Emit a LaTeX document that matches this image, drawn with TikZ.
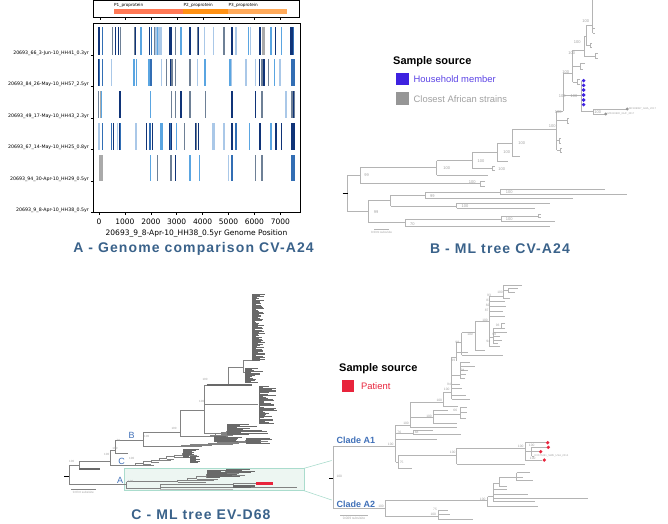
\documentclass[tikz,border=0pt]{standalone}
\usepackage{fontspec}
\setmainfont{Liberation Sans}
\newfontfamily\plotfont{DejaVu Sans}
\newfontfamily\capfont[LetterSpace=8]{Liberation Sans}
\usetikzlibrary{positioning}
\definecolor{CapBlue}{RGB}{58,98,138}
\definecolor{TreeGray}{RGB}{180,180,180}
\definecolor{LabelGray}{RGB}{160,160,160}
\definecolor{CGray}{RGB}{130,130,130}
\definecolor{CDark}{RGB}{105,105,105}
\definecolor{HouseBlue}{RGB}{62,34,224}
\definecolor{AfricaGray}{RGB}{150,150,150}
\definecolor{PatientRed}{RGB}{232,36,60}
\definecolor{CladeBlue}{RGB}{64,112,184}
\definecolor{ZoomTeal}{RGB}{170,220,205}
\definecolor{ZoomFill}{RGB}{237,246,242}
\definecolor{ProtOne}{RGB}{255,120,85}
\definecolor{ProtTwo}{RGB}{255,145,20}
\definecolor{ProtThree}{RGB}{255,170,90}
\definecolor{SnpNavy}{RGB}{16,52,120}
\definecolor{SnpBlue}{RGB}{50,110,180}
\definecolor{SnpSky}{RGB}{90,165,225}
\definecolor{SnpPale}{RGB}{170,200,232}
\definecolor{SnpSlate}{RGB}{110,128,150}
\definecolor{SnpGray}{RGB}{170,170,170}

% comb of leaves: x, y top, y bottom, leaves, min length, max length
\newcommand{\treecomb}[6]{%
  \draw[combC] (#1,#2) -- (#1,#3);
  \foreach \ci in {0,...,#4}{
    \pgfmathsetmacro{\combY}{#2+(#3-#2)*\ci/#4}
    \pgfmathsetmacro{\combL}{#5+(#6-#5)*rnd}
    \draw[combC] (#1,\combY) -- ++(\combL,0);
  }}
% ladder of nodes: x0, y0, x1, y1, steps, min leaf, max leaf
\newcommand{\treeladder}[7]{%
  \foreach \ci in {1,...,#5}{
    \pgfmathsetmacro{\lxa}{#1+(#3-#1)*(\ci-1)/#5}
    \pgfmathsetmacro{\lya}{#2+(#4-#2)*(\ci-1)/#5}
    \pgfmathsetmacro{\lxb}{#1+(#3-#1)*\ci/#5}
    \pgfmathsetmacro{\lyb}{#2+(#4-#2)*\ci/#5}
    \pgfmathsetmacro{\lyc}{\lya+0.4*(\lya-\lyb)}
    \pgfmathsetmacro{\lleaf}{#6+(#7-#6)*rnd}
    \draw[branchC] (\lxa,\lya) -- (\lxb,\lya) (\lxb,\lyb) -- (\lxb,\lyc) (\lxb,\lyc) -- ++(\lleaf,0);
  }}

\begin{document}
\begin{tikzpicture}[x=1pt,y=-1pt,
    axisframe/.style={draw=black,line width=0.7pt},
    ylab/.style={font=\plotfont\fontsize{4.7}{5}\selectfont,anchor=east,inner sep=0pt},
    xlab/.style={font=\plotfont\fontsize{7.5}{8}\selectfont,inner sep=0pt},
    protlab/.style={font=\plotfont\fontsize{4.2}{5}\selectfont,anchor=west,inner sep=0pt},
    panelcap/.style={font=\capfont\bfseries\fontsize{14}{16}\selectfont,text=CapBlue,inner sep=0pt},
    legtitle/.style={font=\bfseries\fontsize{11}{13}\selectfont,anchor=west,inner sep=0pt},
    legtext/.style={font=\fontsize{9.4}{11}\selectfont,inner sep=0pt},
    legsq/.style={minimum size=12.5pt,inner sep=0pt},
    branchB/.style={draw=TreeGray,line width=0.8pt},
    rootline/.style={draw=black,line width=0.9pt},
    bootB/.style={font=\fontsize{4}{4.5}\selectfont,text=LabelGray,inner sep=0pt},
    branchC/.style={draw=CGray,line width=0.45pt},
    combC/.style={draw=CDark,line width=0.25pt},
    clusterC/.style={draw=CDark,line width=1.3pt},
    bundleC/.style={draw=TreeGray,line width=1.6pt},
    patientC/.style={draw=PatientRed,line width=0.55pt},
    bootC/.style={font=\fontsize{3}{3.5}\selectfont,text=LabelGray,inner sep=0pt},
    cladelab/.style={font=\fontsize{9}{10}\selectfont,text=CladeBlue,inner sep=0pt},
    branchZ/.style={draw=TreeGray,line width=0.6pt},
    bootZ/.style={font=\fontsize{3.3}{3.8}\selectfont,text=LabelGray,inner sep=0pt},
    tipname/.style={font=\fontsize{2.6}{3}\selectfont,text=LabelGray,anchor=west,inner sep=0.5pt},
    zoombox/.style={draw=ZoomTeal,fill=ZoomFill,line width=0.5pt},
    zoomline/.style={draw=ZoomTeal,line width=0.6pt}
  ]
  \useasboundingbox (0,0) rectangle (668,523);
  \pgfmathsetseed{7}

  % ---------- A: genome comparison ----------
  \draw[axisframe] (93.3,0.4) rectangle (299,17);
  \fill[ProtOne] (114,9) rectangle (183,14);
  \fill[ProtTwo] (183,9) rectangle (228,14);
  \fill[ProtThree] (228,9) rectangle (287,14);
  \node[protlab] (pOne) at (114,5.5) {P1\_proprotein};
  \node[protlab] (pTwo) at (183.5,5.5) {P2\_proprotein};
  \node[protlab] (pThree) at (228.5,5.5) {P3\_proprotein};
  \foreach \ti in {0,...,7}
    \draw[line width=0.5pt] ({99.8+25.8*\ti},17) -- ++(0,2.5);

  \draw[axisframe] (93.3,23.3) rectangle (300,212.7);
  % row 1
  \foreach \bx/\bw/\bc in {98.5/2/SnpNavy,102.3/1.2/SnpBlue,112.3/1.2/SnpSlate,115.7/1.2/SnpNavy,
      118.3/1.2/SnpNavy,120.3/1/SnpSlate,134.5/1.5/SnpSlate,135.8/1/SnpNavy,141/1.2/SnpSky,
      149.7/1.2/SnpNavy,151.3/1.2/SnpBlue,156.5/6/SnpPale,154/1/SnpSlate,157.5/1/SnpSky,
      161/1.2/SnpPale,169.5/1.5/SnpNavy,171.2/1.5/SnpNavy,175.7/1.2/SnpSlate,181/1.2/SnpSky,
      190/1.2/SnpNavy,197.3/1.2/SnpSlate,198.7/1/SnpNavy,204.3/1.2/SnpPale,213.3/1.2/SnpPale,
      224/1.2/SnpSlate,232/1.2/SnpNavy,236/1.2/SnpPale,248.7/1.2/SnpSky,250.7/1.2/SnpPale,
      259.3/1.2/SnpNavy,260.7/1.2/SnpNavy,263.8/2.8/SnpGray,271/1.2/SnpSky,275.7/1.2/SnpNavy,
      281.7/1.2/SnpSky,291.5/3/SnpNavy,293.5/1.5/SnpBlue}
    \fill[\bc] ({\bx-\bw/2},27) rectangle ({\bx+\bw/2},54.5);
  % row 2
  \foreach \bx/\bw/\bc in {98.3/1.2/SnpNavy,99.8/1/SnpBlue,102.3/1.2/SnpBlue,111.7/1.2/SnpPale,
      134/1.2/SnpSky,136.7/1.2/SnpSky,149/1.2/SnpSky,151/1.2/SnpBlue,161.3/1.2/SnpPale,
      166.3/1.2/SnpSlate,170.7/1.2/SnpNavy,172/1.2/SnpSlate,175.7/1.2/SnpSlate,190/1.2/SnpSlate,
      197.3/1.2/SnpPale,205/1.2/SnpSky,230/1.2/SnpSky,231.7/1.2/SnpPale,246/1.2/SnpPale,
      255.3/1.2/SnpPale,259.8/1.2/SnpNavy,261.5/2/SnpSlate,264/1.2/SnpNavy,268.7/1.2/SnpSlate,
      274.3/1.2/SnpSky,280/1.2/SnpPale,292.8/4.4/SnpBlue}
    \fill[\bc] ({\bx-\bw/2},59) rectangle ({\bx+\bw/2},86);
  % row 3
  \foreach \bx/\bw/\bc in {98.5/1.6/SnpSlate,100.3/1.2/SnpGray,101.5/1/SnpSky,120/1.4/SnpNavy,
      150.7/1.2/SnpSky,171.7/1.2/SnpSlate,175.7/1.2/SnpSlate,181/1.2/SnpNavy,190/1.2/SnpSlate,
      205.7/1.2/SnpSlate,232/1.2/SnpNavy,255.3/1.2/SnpNavy,262/1.2/SnpSlate,286/1.2/SnpPale,
      292.8/4.2/SnpSlate,293.5/1.2/SnpNavy}
    \fill[\bc] ({\bx-\bw/2},91) rectangle ({\bx+\bw/2},118);
  % row 4
  \foreach \bx/\bw/\bc in {99/1.2/SnpPale,102.3/1.2/SnpBlue,111.7/1.2/SnpBlue,113.3/1.2/SnpNavy,
      117.3/1.2/SnpPale,119.3/1.2/SnpNavy,120.7/1.2/SnpBlue,136/1.2/SnpPale,146.3/1.2/SnpNavy,
      150/1.2/SnpBlue,152.7/1.2/SnpNavy,161.6/3.3/SnpSky,169.3/1.2/SnpNavy,170.6/1.2/SnpBlue,
      171.7/1.2/SnpNavy,176.7/1.2/SnpSky,184.3/1.2/SnpSlate,195.3/1.2/SnpNavy,196.8/1.2/SnpSlate,
      198.3/1.2/SnpNavy,213.7/2.7/SnpPale,224/1.2/SnpPale,232/1.2/SnpNavy,236/1.2/SnpBlue,
      249.7/1.2/SnpSky,260/1.2/SnpNavy,271/1.2/SnpSky,276/1.2/SnpNavy,281.7/1.2/SnpNavy,
      292.8/4.2/SnpNavy}
    \fill[\bc] ({\bx-\bw/2},123) rectangle ({\bx+\bw/2},150);
  % row 5
  \foreach \bx/\bw/\bc in {101/4.3/SnpGray,150.7/1.2/SnpSky,157.3/1.2/SnpSlate,171/1.2/SnpSlate,
      175.7/1.2/SnpNavy,190/1.2/SnpSky,199.3/1.2/SnpSky,228.7/1.2/SnpPale,232/1.2/SnpBlue,
      255.3/1.2/SnpSlate,262/1.2/SnpSlate,293/4/SnpBlue}
    \fill[\bc] ({\bx-\bw/2},154.5) rectangle ({\bx+\bw/2},181);

  \foreach \ty in {55,86.5,118,149.7,181.2,212.7}
    \draw[line width=0.5pt] (90.8,\ty) -- (93.3,\ty);
  \node[ylab] (rowOne) at (89,53) {20693\_66\_3-Jun-10\_HH41\_0.3yr};
  \node[ylab] (rowTwo) at (89,84.5) {20693\_84\_26-May-10\_HH57\_2.5yr};
  \node[ylab] (rowThree) at (89,116) {20693\_49\_17-May-10\_HH43\_2.3yr};
  \node[ylab] (rowFour) at (89,147.7) {20693\_67\_14-May-10\_HH25\_0.8yr};
  \node[ylab] (rowFive) at (89,179.2) {20693\_94\_30-Apr-10\_HH29\_0.5yr};
  \node[ylab] (rowSix) at (89,210.7) {20693\_9\_8-Apr-10\_HH38\_0.5yr};
  \foreach \vi in {0,...,7}{
    \pgfmathtruncatemacro{\vlab}{1000*\vi}
    \draw[line width=0.5pt] ({99+25.9*\vi},212.7) -- ++(0,2.5);
    \node[xlab] at ({99+25.9*\vi},221.7) {\vlab};
  }
  \node[xlab] (axisA) at (196.5,233.7) {20693\_9\_8-Apr-10\_HH38\_0.5yr Genome Position};
  \node[panelcap] (capA) at (193.5,249.3) {A - Genome comparison CV-A24};

  % ---------- B: ML tree CV-A24 ----------
  \node[legtitle] (legB) at (393,61.7) {Sample source};
  \node[legsq,fill=HouseBlue] (sqHouse) at (402.5,79) {};
  \node[legtext,text=HouseBlue!85,right=4.5pt of sqHouse] (txtHouse) {Household member};
  \node[legsq,fill=AfricaGray] (sqAfrica) at (402.5,98.7) {};
  \node[legtext,text=LabelGray,right=4.5pt of sqAfrica] (txtAfrica) {Closest African strains};

  \draw[branchB] (347.7,175) -- (347.7,211.7);
  \draw[rootline] (342.7,193) -- (347.7,193);
  \draw[branchB] (347.7,175) -- (360,175) (360,167.3) -- (360,183.3);
  \draw[branchB] (360,167.3) -- (436.7,167.3) (436.7,160.7) -- (436.7,175) (436.7,175) -- (488.3,175);
  \draw[branchB] (436.7,160.7) -- (472.3,160.7) (472.3,152.7) -- (472.3,168.3) (472.3,168.3) -- (492.7,168.3);
  \draw[branchB] (494.5,166.5) -| (492.7,170) -- (494.5,170);
  \draw[branchB] (472.3,152.7) -- (497.3,152.7) (497.3,143.3) -- (497.3,161) (497.3,161) -- (508.3,161);
  \draw[branchB] (497.3,143.3) -- (512.7,143.3) (512.7,129.3) -- (512.7,156.7) (512.7,156.7) -- (520,156.7);
  \draw[branchB] (512.7,129.3) -- (556.7,129.3);
  \draw[branchB] (360,183.3) -- (480,183.3) (485,181) -| (480,186) -- (485,186);
  \draw[branchB] (347.7,211.7) -- (368.3,211.7) (368.3,200) -- (368.3,222.7);
  \draw[branchB] (368.3,200) -- (390.7,200) (390.7,195.3) -- (390.7,206);
  \draw[branchB] (390.7,195.3) -- (425,195.3) (425,192) -- (425,198.7) (425,198.7) -- (573.3,198.7);
  \draw[branchB] (425,192) -- (500,192) (500,189.3) -- (500,194) (500,189.3) -- (605,189.3) (500,194) -- (626.7,194);
  \draw[branchB] (390.7,206) -- (456.7,206) (456.7,203.3) -- (456.7,208.3) (456.7,203.3) -- (550,203.3) (456.7,208.3) -- (535,208.3);
  \draw[branchB] (368.3,222.7) -- (405,222.7) (405,219) -- (405,226.7) (405,226.7) -- (550,226.7);
  \draw[branchB] (405,219) -- (501,219) (501,216) -- (501,221.7) (501,216) -- (538.3,216) (501,221.7) -- (555,221.7);
  \draw[branchB] (540.5,214.5) -| (538.3,217.5) -- (540.5,217.5);
  % upper part of the CV-A24 tree
  \draw[branchB] (556.7,111) -- (556.7,150);
  \draw[branchB] (556.7,120) -- (567,120) (569,118) -| (567,123) -- (569,123);
  \draw[branchB] (556.7,140) -- (559,140) (561,138) -| (559,143) -- (561,143);
  \draw[branchB] (556.7,150) -- (560,150) (562,148) -| (560,152) -- (562,152);
  \draw[branchB] (556.7,111) -- (563.3,111) (563.3,73) -- (563.3,111);
  \draw[branchB] (563.3,95.7) -- (581.7,95.7) (581.7,80.7) -- (581.7,111.7);
  \foreach \dy in {80.7,85.3,90,95,100,104.7}{
    \draw[branchB] (581.7,\dy) -- (583.3,\dy);
    \fill[HouseBlue] (583.6,\dy) circle (1.9);
  }
  \draw[branchB] (581.7,111.7) -- (593.3,111.7) (593.3,109) -- (593.3,114);
  \draw[branchB] (593.3,109) -- (627.3,109) (593.3,114) -- (605.7,114);
  \fill[AfricaGray] (627.3,109) circle (1.6);
  \fill[AfricaGray] (605.7,114) circle (1.6);
  \node[tipname] (tipGha) at (628.5,109) {MF189997\_GHA\_2017};
  \node[tipname] (tipGuf) at (607,114) {MF416930\_GUF\_2017};
  \draw[branchB] (563.3,73) -- (572.7,73) (572.7,50) -- (572.7,82);
  \draw[branchB] (572.7,66) -- (580,66) (585,63) -| (580,69) -- (583,69);
  \draw[branchB] (572.7,82) -- (577,82) (580,79.5) -| (577,84.5) -- (579.5,84.5);
  \draw[branchB] (572.7,50) -- (584,50) (584,36) -- (584,56) (584,56) -- (595,56);
  \draw[branchB] (597.5,53.5) -| (595,58.5) -- (597.5,58.5);
  \draw[branchB] (584,36) -- (586,36) (586,25) -- (586,45) (586,45) -- (590,45);
  \draw[branchB] (592,43) -| (590,47) -- (592,47);
  \draw[branchB] (586,25) -- (592.7,25) (592.7,0) -- (592.7,33);
  \draw[branchB] (592.7,28) -- (595,28) (592.7,33) -- (595,33);
  \foreach \lx/\ly in {585.7/21,577.3/41.7,571.7/53.3,565.7/72.3,562.3/95.7,574/95.7,597.7/111.7,
      558.3/111.7,552.3/126.5,521.7/143.3,506.7/152.3,481/160.7,446.7/167.7,501.7/168.7,
      472.3/181.7,509.3/192,465/206.3,509.3/219.3}
    \node[bootB] at (\lx,\ly) {100};
  \foreach \lx/\ly/\lt in {366.7/175/99,432.3/196/99,376/212.3/99,412.3/223.7/70}
    \node[bootB] at (\lx,\ly) {\lt};
  \draw[branchB,line width=0.6pt] (374,229) -- (389.3,229);
  \node[bootB,font=\fontsize{3}{3.5}\selectfont] (scaleB) at (381.5,232.5) {0.03nt subs/site};
  \node[panelcap] (capB) at (500,248.3) {B - ML tree CV-A24};

  % ---------- C: ML tree EV-D68 ----------
  \draw[zoombox] (124,468.3) rectangle (304,490.7);
  \draw[zoomline] (304,468.3) -- (331.7,460.5);
  \draw[zoomline] (304,490.7) -- (331.7,500);
  \draw[rootline] (64.3,476.7) -- (69,476.7);
  \draw[branchC] (69,465) -- (69,484);
  \draw[branchC] (69,465) -- (79,465) (79,461) -- (79,469);
  \draw[clusterC] (79,469) -- (100,469);
  \draw[branchC] (79,461) -- (110,461) (110,450) -- (110,465);
  % clade C
  \draw[branchC] (110,465) -- (128,465);
  \treeladder{128}{465}{182}{453}{7}{6}{20}
  \treecomb{183}{449}{457}{10}{5}{16}
  \treecomb{190}{456}{462}{8}{4}{12}
  % clade B
  \draw[branchC] (110,450) -- (115,450) (115,440) -- (115,453) (115,453) -- (128,453);
  \draw[branchC] (115,440) -- (143,440) (143,432) -- (143,446);
  \draw[branchC] (143,446) -- (172,446);
  \treeladder{172}{446}{245}{440}{8}{6}{25}
  \treecomb{246}{438}{443}{6}{10}{27}
  \draw[branchC] (143,432) -- (180,432) (180,410) -- (180,436);
  \draw[branchC] (180,436) -- (205,436);
  \treeladder{205}{436}{226}{431}{4}{5}{18}
  \treecomb{227}{424}{434}{10}{8}{42}
  \treecomb{214}{436}{441}{5}{8}{30}
  \draw[branchC] (180,410) -- (204,410) (204,385) -- (204,433);
  \draw[branchC] (204,433) -- (226.7,433);
  \draw[branchC] (204,404) -- (258,404);
  \treecomb{259}{386}{423}{34}{4}{18}
  \draw[branchC] (204,385) -- (228.3,385) (228.3,367) -- (228.3,385);
  \draw[clusterC] (206.7,385) -- (251.7,385);
  \draw[branchC] (228.3,367) -- (243.3,367) (243.3,360) -- (243.3,372) (243.3,372) -- (245,372);
  \treecomb{245}{368}{382}{14}{5}{20}
  \draw[branchC] (243.3,360) -- (252,360);
  \treecomb{252}{294}{360}{105}{3}{13}
  % clade A
  \draw[branchC] (69,484) -- (126.7,484) (126.7,481.7) -- (126.7,488.5);
  \draw[branchC] (126.7,481.7) -- (168,481.7);
  \treeladder{168}{481.7}{225}{471}{6}{8}{30}
  \treecomb{207}{470.5}{477.5}{10}{10}{34}
  \treecomb{226}{469.3}{472.5}{4}{12}{31}
  \draw[branchC] (126.7,488.5) -- (160,488.5) (160,484.5) -- (160,489.5);
  \draw[bundleC] (160,489.3) -- (233,489.3);
  \draw[branchC] (160,487.5) -- (296.7,487.5);
  \draw[branchC] (160,484.5) -- (233,484.5) (233,483) -- (233,486.5);
  \treecomb{233}{485}{487}{4}{12}{27}
  \draw[branchC] (233,483) -- (256,483);
  \foreach \ry in {482.5,483.3,484.1}
    \draw[patientC] (256,\ry) -- (273,\ry);
  \foreach \lx/\ly/\lt in {71.7/461.7/100,106.7/454.3/100,115/448.3/100,131.7/458.3/100,
      146.7/436.7/100,174/428.3/100,201.7/401.7/100,205/379/100,130.7/481/100,118.3/440/79}
    \node[bootC] at (\lx,\ly) {\lt};
  \node[cladelab] (labA) at (120,480.5) {A};
  \node[cladelab] (labB) at (131.7,435) {B};
  \node[cladelab] (labC) at (121.7,461) {C};
  \draw[branchC] (71,489) -- (95.7,489);
  \node[bootC] (scaleC) at (83.3,492) {0.07nt subs/site};
  \node[panelcap] (capC) at (201,515) {C - ML tree EV-D68};

  % ---------- C: zoom on clade A ----------
  \node[legtitle] (legC) at (339,369) {Sample source};
  \node[legsq,fill=PatientRed,minimum size=11.8pt] (sqPatient) at (348.3,385.8) {};
  \node[legtext,text=PatientRed,right=6.5pt of sqPatient] (txtPatient) {Patient};

  \draw[rootline] (329.3,478.3) -- (333.3,478.3);
  \draw[branchZ] (333.3,446.7) -- (333.3,508.3);
  \node[font=\bfseries\fontsize{9}{10}\selectfont,text=CladeBlue,anchor=west,inner sep=0pt] (cladeAone) at (336.5,440.7) {Clade A1};
  \node[font=\bfseries\fontsize{9}{10}\selectfont,text=CladeBlue,anchor=west,inner sep=0pt] (cladeAtwo) at (336.5,504) {Clade A2};
  % clade A1
  \draw[branchZ] (333.3,446.7) -- (395.7,446.7) (395.7,425) -- (395.7,462);
  \draw[branchZ] (395.7,462) -- (398,462) (398,455) -- (398,468.3) (398,468.3) -- (411.7,468.3);
  \draw[branchZ] (398,455) -- (456.7,455) (456.7,448.3) -- (456.7,464) (456.7,464) -- (525,464);
  \draw[branchZ] (456.7,448.3) -- (525,448.3) (525,442.7) -- (525,460);
  \draw[branchZ] (525,442.7) -- (545.8,442.7) (525,460) -- (542.4,460);
  \draw[branchZ] (525,451.5) -- (531.7,451.5) (531.7,447.3) -- (531.7,456);
  \draw[branchZ] (531.7,447.3) -- (546.5,447.3) (531.7,451.7) -- (538.9,451.7) (531.7,456) -- (534,456);
  \foreach \px/\py in {547.7/442.7,548.3/447.3,540.7/451.7,544.3/460}
    \fill[PatientRed] (\px,\py) circle (1.8);
  \node[tipname] (tipSwe) at (534,456) {KX675261\_SWE\_USA\_2014};
  \draw[branchZ] (395.7,439) -- (436.7,439);
  \draw[branchZ] (395.7,433) -- (413.3,433) (413.3,430) -- (413.3,434.5) (413.3,430) -- (433.3,430) (413.3,434.5) -- (460.7,434.5);
  \draw[branchZ] (395.7,425) -- (410,425) (410,402) -- (410,427.5) (410,427.5) -- (456.7,427.5);
  \draw[branchZ] (410,417) -- (433.3,417) (433.3,410) -- (433.3,423) (433.3,423) -- (457,423) (433.3,410) -- (448,410);
  \draw[branchZ] (433.3,414) -- (460,414) (460,407) -- (460,418);
  \draw[branchZ] (460,407) -- (466.7,407) (460,412) -- (467,412) (460,418) -- (466,418);
  \draw[branchZ] (410,402) -- (443.3,402) (443.3,392) -- (443.3,406) (443.3,406) -- (458,406);
  \draw[branchZ] (443.3,392) -- (451.7,392) (451.7,357) -- (451.7,399);
  \draw[branchZ] (451.7,399) -- (470,399) (451.7,395.5) -- (466,395.5) (451.7,388) -- (462,388) (451.7,384) -- (460,384);
  \draw[branchZ] (451.7,375) -- (460,375) (460,362) -- (460,378);
  \foreach \ly/\ll in {362/10,366/15,370/8,374/6,378/5}
    \draw[branchZ] (460,\ly) -- ++(\ll,0);
  \draw[branchZ] (451.7,357) -- (456.7,357) (456.7,342) -- (456.7,361) (456.7,352) -- (468,352);
  \draw[branchZ] (456.7,342) -- (461.7,342) (461.7,332.7) -- (461.7,355) (461.7,355) -- (503.3,355);
  \draw[branchZ] (461.7,332.7) -- (475,332.7) (475,321.7) -- (475,350) (475,350) -- (485,350);
  \draw[branchZ] (475,321.7) -- (489,321.7) (489,296.7) -- (489,346.7) (489,346.7) -- (500,346.7);
  \draw[branchZ] (489,337) -- (493,337) (493,328) -- (493,343);
  \foreach \ly/\ll in {328/12,332/13.7,336/7,340/9,343/5}
    \draw[branchZ] (493,\ly) -- ++(\ll,0);
  \draw[branchZ] (505,323) -| (501,329) (489,316) -- (505,316) (489,311) -- (503,311) (489,306) -- (506,306) (489,301) -- (505,301);
  \draw[branchZ] (489,296.7) -- (503.3,296.7) (503.3,285) -- (503.3,298) (503.3,298) -- (510,298);
  \draw[branchZ] (503.3,285) -- (521.7,285) (503.3,290) -- (508,290) (508,288) -- (508,292) (508,288) -- (518.3,288) (508,292) -- (515,292);
  \foreach \lx/\ly/\lt in {339.3/476.5/100,390.7/444.5/100,399.3/432.3/76,401.7/462.3/75,416.7/432.2/68,
      406/423.3/100,429/416.3/100,455.3/410.7/66,439.3/400.5/100,446.7/389.3/100,449/384/94,
      462.7/370/94,453.3/360.5/99,457.3/342.3/99,470/334/100,485/320/100,497.7/325.7/93,494.3/334/98,
      488.3/341/94,489/295.2/93,488.3/300.5/83,487.7/305.2/82,486.7/310.2/87,500/292.2/100,
      452.7/452.6/100,520.7/446/100,531.7/445.8/100,532.7/458.5/100}
    \node[bootZ] at (\lx,\ly) {\lt};
  % clade A2
  \draw[branchZ] (333.3,508.3) -- (385,508.3) (385,500.7) -- (385,516);
  \draw[branchZ] (385,500.7) -- (487.7,500.7) (487.7,496.7) -- (487.7,506.7) (487.7,506.7) -- (538.3,506.7);
  \draw[branchZ] (487.7,496.7) -- (493.3,496.7) (493.3,483) -- (493.3,501.7);
  \draw[branchZ] (493.3,501.7) -- (535,501.7) (493.3,498.3) -- (588.3,498.3) (493.3,494) -- (528.3,494) (493.3,489.3) -- (506.7,489.3);
  \draw[branchZ] (493.3,483) -- (499.3,483) (499.3,477.3) -- (499.3,486) (499.3,486) -- (506.7,486);
  \draw[branchZ] (499.3,477.3) -- (516.7,477.3) (516.7,472.5) -- (516.7,480.7);
  \draw[branchZ] (516.7,472.5) -- (530,472.5) (516.7,477) -- (523.3,477) (516.7,480.7) -- (533.3,480.7);
  \draw[branchZ] (385,516) -- (438.3,516) (438.3,510.7) -- (438.3,519.3);
  \draw[branchZ] (438.3,510.7) -- (448.3,510.7) (438.3,514.5) -- (450,514.5) (438.3,519.3) -- (473.3,519.3);
  \foreach \lx/\ly/\lt in {381/506.8/100,482.7/499.3/100,435/509.5/75,433.3/514.5/100}
    \node[bootZ] at (\lx,\ly) {\lt};
  \draw[branchZ] (340,515) -- (368.3,515);
  \node[bootZ] (scaleZ) at (354,518.8) {0.009 subs/site};
\end{tikzpicture}
\end{document}
